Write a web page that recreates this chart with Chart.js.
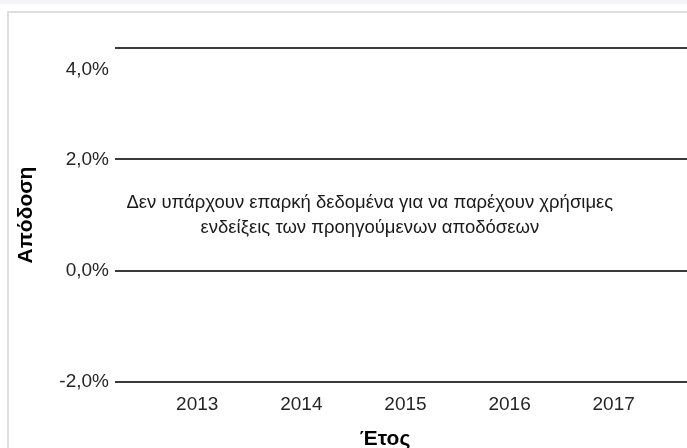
<!DOCTYPE html>
<html><head><meta charset="utf-8">
<script src="https://cdn.jsdelivr.net/npm/chart.js@4"></script>
<style>
html,body{margin:0;padding:0;background:#fff;overflow:hidden;width:687px;height:448px;}
#strip{position:absolute;left:0;top:0;width:687px;height:4px;background:#f3f5f8;}
#box{position:absolute;left:7px;top:11px;width:760px;height:460px;border-left:2px solid #dedede;border-top:2px solid #dedede;}
#wrap{position:absolute;left:0;top:0;width:740px;height:435px;}
</style></head><body>
<div id="strip"></div>
<div id="box"><div id="wrap"><canvas id="c"></canvas></div></div>
<script>
// ---- data ----
const years = [2013, 2014, 2015, 2016, 2017];
const returns = [null, null, null, null, null]; // no data available
const yTickValues = [-2, 0, 2, 4];
const yTickLabels = ['-2,0%', '0,0%', '2,0%', '4,0%'];
const yTitle = 'Απόδοση';
const xTitle = 'Έτος';
const messageLines = [
  'Δεν υπάρχουν επαρκή δεδομένα για να παρέχουν χρήσιμες',
  'ενδείξεις των προηγούμενων αποδόσεων'
];

const FONT = "'Liberation Sans', Arial, sans-serif";
const tickColor = '#262626';

const overlay = {
  id: 'overlay',
  afterDraw(chart) {
    const ctx = chart.ctx, ca = chart.chartArea, y = chart.scales.y;
    ctx.save();
    // top tick label (drawn slightly below its line, as in the reference)
    ctx.font = '19px ' + FONT;
    ctx.fillStyle = tickColor;
    ctx.textAlign = 'right';
    ctx.textBaseline = 'middle';
    const topV = yTickValues[yTickValues.length - 1];
    ctx.fillText(yTickLabels[yTickLabels.length - 1], ca.left - 6, y.getPixelForValue(topV) + 22);
    // message
    ctx.font = '18.5px ' + FONT;
    ctx.fillStyle = '#1a1a1a';
    ctx.textAlign = 'center';
    const cx = ca.left + 0.402 * (ca.right - ca.left);
    const cy = (ca.top + ca.bottom) / 2;
    const lh = 25;
    messageLines.forEach((t, i) => {
      ctx.fillText(t, cx, cy + (i - (messageLines.length - 1) / 2) * lh);
    });
    // x title
    ctx.font = 'bold 21px ' + FONT;
    ctx.fillStyle = '#000';
    ctx.fillText(xTitle, ca.left + 0.426 * (ca.right - ca.left), ca.bottom + 57);
    ctx.restore();
  }
};

new Chart(document.getElementById('c'), {
  type: 'line',
  data: {
    datasets: [{
      label: 'Απόδοση',
      data: years.map((yr, i) => ({ x: yr, y: returns[i] })),
      borderColor: '#1f4e79',
      pointRadius: 0
    }]
  },
  options: {
    responsive: true,
    maintainAspectRatio: false,
    animation: false,
    layout: { padding: { top: 35, left: 0, right: 0, bottom: 0 } },
    plugins: { legend: { display: false }, tooltip: { enabled: false } },
    scales: {
      x: {
        type: 'linear',
        min: years[0] - 0.79,
        max: years[years.length - 1] + 1.3,
        afterFit: s => { s.height = 66; },
        grid: { display: false, drawTicks: false },
        border: { display: false },
        ticks: {
          stepSize: 1,
          includeBounds: false,
          autoSkip: false,
          maxRotation: 0,
          padding: 11,
          color: tickColor,
          font: { family: FONT, size: 19 },
          callback: v => years.includes(v) ? String(v) : ''
        }
      },
      y: {
        type: 'linear',
        min: yTickValues[0],
        max: yTickValues[yTickValues.length - 1],
        afterFit: s => { s.width = 106; },
        afterBuildTicks: s => { s.ticks = yTickValues.map(v => ({ value: v })); },
        grid: { color: '#3a3a3a', lineWidth: 2, drawTicks: false },
        border: { display: false },
        ticks: {
          padding: 6,
          font: { family: FONT, size: 19 },
          color: c => c.tick && c.tick.value === yTickValues[yTickValues.length - 1] ? 'rgba(0,0,0,0)' : tickColor,
          callback: v => yTickLabels[yTickValues.indexOf(v)]
        },
        title: {
          display: true,
          text: yTitle,
          color: '#000',
          font: { family: FONT, size: 21, weight: 'bold' },
          padding: { top: 5, bottom: 0 }
        }
      }
    }
  },
  plugins: [overlay]
});
</script>
</body></html>
